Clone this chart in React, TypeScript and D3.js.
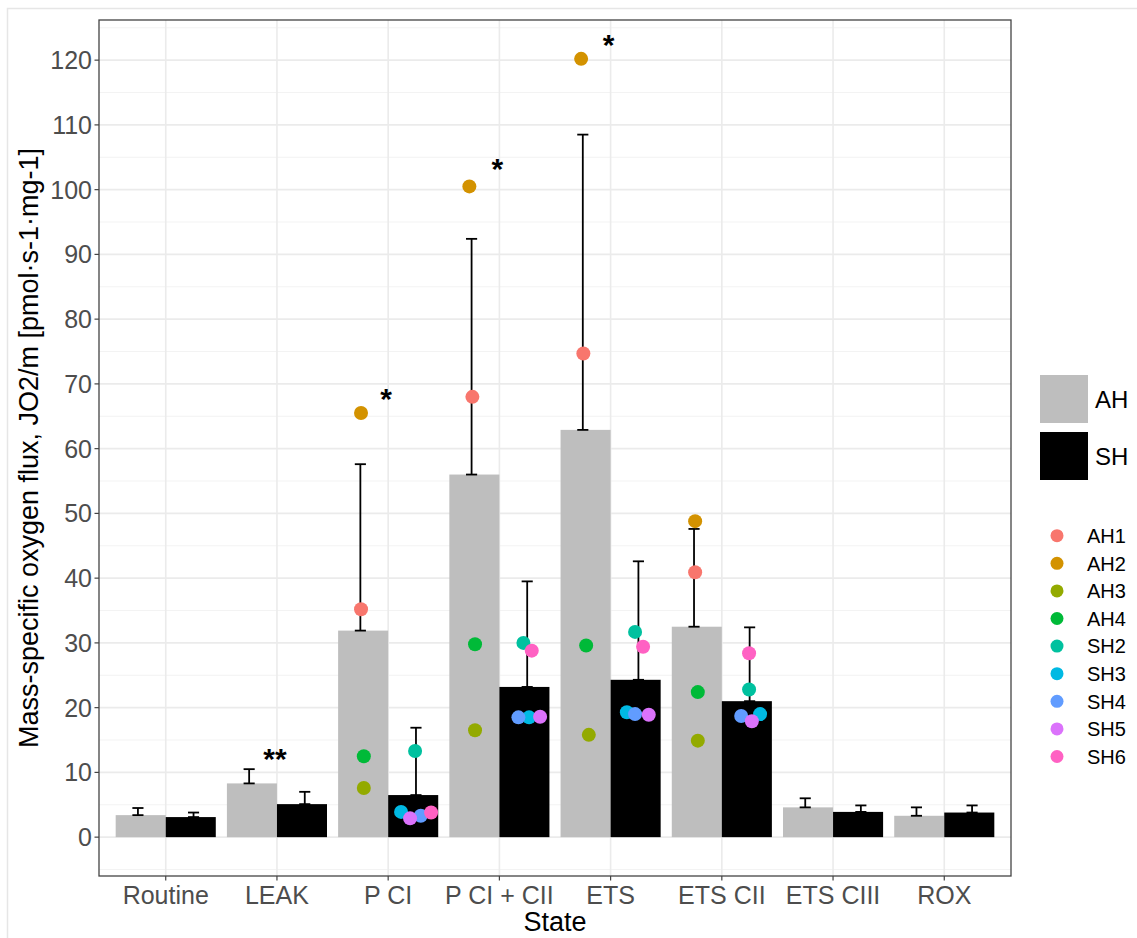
import * as d3 from "d3";

// categories on the x axis
const states = ["Routine", "LEAK", "P CI", "P CI + CII", "ETS", "ETS CII", "ETS CIII", "ROX"];

// bar means and upper error limits (mean + sd)
const ahMean = [3.4, 8.3, 31.9, 56.0, 62.9, 32.5, 4.6, 3.3];
const ahUpper = [4.5, 10.5, 57.6, 92.4, 108.5, 47.6, 6.0, 4.6];
const shMean = [3.1, 5.1, 6.5, 23.2, 24.3, 21.0, 3.9, 3.8];
const shUpper = [3.8, 7.0, 16.9, 39.5, 42.6, 32.4, 4.9, 4.9];

// individual points (only for P CI, P CI + CII, ETS, ETS CII)
const pointStates = ["P CI", "P CI + CII", "ETS", "ETS CII"];
const individuals = ["AH1", "AH2", "AH3", "AH4", "SH2", "SH3", "SH4", "SH5", "SH6"];
const indColors = ["#F8766D", "#D39200", "#93AA00", "#00BA38", "#00C19F", "#00B9E3", "#619CFF", "#DB72FB", "#FF61C3"];
const indValues = [
  [35.2, 68.0, 74.7, 40.9],
  [65.5, 100.5, 120.2, 48.8],
  [7.6, 16.5, 15.8, 14.9],
  [12.5, 29.8, 29.6, 22.4],
  [13.3, 30.0, 31.7, 22.8],
  [3.9, 18.5, 19.3, 19.0],
  [3.3, 18.5, 19.0, 18.7],
  [2.9, 18.6, 18.9, 17.9],
  [3.8, 28.8, 29.4, 28.4],
];
// jitter, in category units from the category centre
const indJitter = [
  [-0.244, -0.243, -0.245, -0.24],
  [-0.244, -0.27, -0.265, -0.24],
  [-0.219, -0.219, -0.196, -0.216],
  [-0.219, -0.219, -0.22, -0.216],
  [0.242, 0.216, 0.22, 0.245],
  [0.116, 0.267, 0.146, 0.344],
  [0.293, 0.171, 0.22, 0.174],
  [0.197, 0.366, 0.343, 0.27],
  [0.386, 0.291, 0.292, 0.245],
];

// significance marks
const sigStates = ["LEAK", "P CI", "P CI + CII", "ETS"];
const sigLabels = ["**", "*", "*", "*"];
const sigValues = [13.2, 68.8, 104.3, 123.4];

const yTicks = d3.range(0, 121, 10);
const yMinor = d3.range(-5, 126, 10);

const W = 1137;
const H = 938;
const panel = { left: 99, right: 1011, top: 20, bottom: 876 };
const FONT = "'Liberation Sans', Arial, Helvetica, sans-serif";

export default function App() {
  const x = d3
    .scalePoint<string>()
    .domain(states)
    .range([panel.left, panel.right])
    .padding(0.6);
  const step = x.step();
  const y = d3.scaleLinear().domain([-6.0, 126.2]).range([panel.bottom, panel.top]);

  const barW = step * 0.45;
  const errOff = step * 0.25;
  const whisk = step * 0.05;

  const bars: { x: number; y: number; h: number; fill: string }[] = [];
  const errs: { cx: number; y0: number; y1: number }[] = [];
  states.forEach((s, i) => {
    const c = x(s)!;
    bars.push({ x: c - barW, y: y(ahMean[i]), h: y(0) - y(ahMean[i]), fill: "#BEBEBE" });
    bars.push({ x: c, y: y(shMean[i]), h: y(0) - y(shMean[i]), fill: "#000000" });
    errs.push({ cx: c - errOff, y0: y(ahMean[i]), y1: y(ahUpper[i]) });
    errs.push({ cx: c + errOff, y0: y(shMean[i]), y1: y(shUpper[i]) });
  });

  return (
    <svg
      width={W}
      height={H}
      style={{ position: "absolute", left: 0, top: 0, background: "#fff" }}
      fontFamily={FONT}
    >
      <rect x={7.5} y={8.5} width={W + 10} height={H + 10} fill="#fff" stroke="#e6e6e6" strokeWidth={1.5} />
      <rect x={panel.left} y={panel.top} width={panel.right - panel.left} height={panel.bottom - panel.top} fill="#fff" />

      {/* grid */}
      {yMinor.map((t) => (
        <line key={"mi" + t} x1={panel.left} x2={panel.right} y1={y(t)} y2={y(t)} stroke="#f3f3f3" strokeWidth={1} />
      ))}
      {yTicks.map((t) => (
        <line key={"ma" + t} x1={panel.left} x2={panel.right} y1={y(t)} y2={y(t)} stroke="#ebebeb" strokeWidth={1.6} />
      ))}
      {states.map((s) => (
        <line key={"vx" + s} x1={x(s)} x2={x(s)} y1={panel.top} y2={panel.bottom} stroke="#ebebeb" strokeWidth={1.6} />
      ))}

      {/* bars */}
      {bars.map((b, i) => (
        <rect key={"b" + i} x={b.x} y={b.y} width={barW} height={b.h} fill={b.fill} />
      ))}

      {/* error bars */}
      {errs.map((e, i) => (
        <g key={"e" + i} stroke="#000" strokeWidth={1.8}>
          <line x1={e.cx} x2={e.cx} y1={e.y0} y2={e.y1} />
          <line x1={e.cx - whisk} x2={e.cx + whisk} y1={e.y0} y2={e.y0} />
          <line x1={e.cx - whisk} x2={e.cx + whisk} y1={e.y1} y2={e.y1} />
        </g>
      ))}

      {/* individual points */}
      {individuals.map((ind, k) =>
        pointStates.map((s, j) => (
          <circle
            key={ind + s}
            cx={x(s)! + indJitter[k][j] * step}
            cy={y(indValues[k][j])}
            r={7}
            fill={indColors[k]}
          />
        ))
      )}

      {/* significance */}
      {sigStates.map((s, i) => (
        <text
          key={"sig" + s}
          x={x(s)! - 2}
          y={y(sigValues[i]) + 17}
          textAnchor="middle"
          fontSize={30}
          fontWeight="bold"
          fill="#000"
        >
          {sigLabels[i]}
        </text>
      ))}

      {/* panel border */}
      <rect
        x={panel.left}
        y={panel.top}
        width={panel.right - panel.left}
        height={panel.bottom - panel.top}
        fill="none"
        stroke="#444"
        strokeWidth={1.3}
      />

      {/* y axis */}
      {yTicks.map((t) => (
        <g key={"yt" + t}>
          <line x1={panel.left - 4.5} x2={panel.left} y1={y(t)} y2={y(t)} stroke="#444" strokeWidth={1.2} />
          <text x={panel.left - 7} y={y(t)} dy="0.36em" textAnchor="end" fontSize={25} fill="#4D4D4D">
            {t}
          </text>
        </g>
      ))}

      {/* x axis */}
      {states.map((s) => (
        <g key={"xt" + s}>
          <line x1={x(s)} x2={x(s)} y1={panel.bottom} y2={panel.bottom + 4.5} stroke="#444" strokeWidth={1.2} />
          <text x={x(s)} y={panel.bottom + 28} textAnchor="middle" fontSize={25} fill="#4D4D4D">
            {s}
          </text>
        </g>
      ))}

      <text x={(panel.left + panel.right) / 2} y={931} textAnchor="middle" fontSize={27} fill="#000">
        State
      </text>
      <text
        transform={`translate(38,${(panel.top + panel.bottom) / 2}) rotate(-90)`}
        textAnchor="middle"
        fontSize={27}
        fill="#000"
      >
        Mass-specific oxygen flux, JO2/m [pmol·s-1·mg-1]
      </text>

      {/* legend: groups */}
      {["AH", "SH"].map((g, i) => (
        <g key={"lg" + g}>
          <rect x={1040} y={375 + i * 57} width={48} height={48} fill={i === 0 ? "#BEBEBE" : "#000"} />
          <text x={1095} y={399 + i * 57} dy="0.36em" fontSize={24} fill="#000">
            {g}
          </text>
        </g>
      ))}

      {/* legend: individuals */}
      {individuals.map((ind, k) => (
        <g key={"li" + ind}>
          <circle cx={1057} cy={535.7 + k * 27.6} r={6.5} fill={indColors[k]} />
          <text x={1087} y={535.7 + k * 27.6} dy="0.36em" fontSize={20} fill="#000">
            {ind}
          </text>
        </g>
      ))}
    </svg>
  );
}
